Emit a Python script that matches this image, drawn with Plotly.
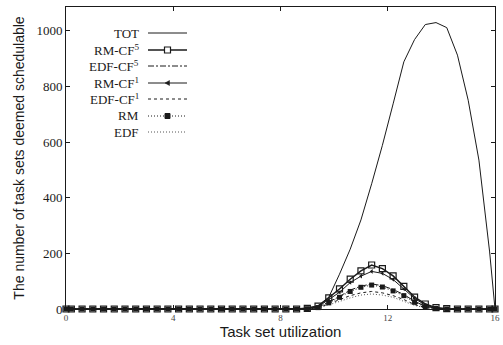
import plotly.graph_objects as go

# Task set utilization (x) values
utilization = [0.0, 0.2, 0.6, 1.0, 1.4, 1.8, 2.2, 2.6, 3.0, 3.4, 3.8, 4.2, 4.6, 5.0, 5.4,
               5.8, 6.2, 6.6, 7.0, 7.4, 7.8, 8.2, 8.6, 9.0, 9.4, 9.8, 10.2, 10.6, 11.0,
               11.4, 11.8, 12.2, 12.6, 13.0, 13.4, 13.8, 14.2, 14.6, 15.0, 15.4, 15.8, 16.0]

zeros21 = [0] * 21  # x = 0 .. 7.8

tot      = zeros21 + [0, 1, 4, 12, 42, 125, 215, 320, 450, 588, 737, 888, 968, 1022, 1029, 1011, 912, 750, 535, 205, 0]
rm_cf5   = zeros21 + [0, 0, 2, 10, 40, 72, 107, 137, 158, 145, 119, 81, 43, 18, 5, 1, 0, 0, 0, 0, 0]
edf_cf5  = zeros21 + [0, 0, 1, 6, 25, 45, 68, 82, 90, 84, 70, 52, 28, 10, 2, 0, 0, 0, 0, 0, 0]
rm_cf1   = zeros21 + [0, 0, 1, 8, 33, 60, 95, 118, 135, 128, 106, 72, 38, 14, 3, 0, 0, 0, 0, 0, 0]
edf_cf1  = zeros21 + [0, 0, 0, 4, 18, 32, 48, 58, 63, 58, 48, 34, 16, 5, 1, 0, 0, 0, 0, 0, 0]
rm       = zeros21 + [0, 0, 1, 5, 22, 42, 63, 78, 86, 79, 65, 48, 24, 8, 2, 0, 0, 0, 0, 0, 0]
edf      = zeros21 + [0, 0, 0, 3, 14, 27, 40, 50, 54, 50, 42, 28, 13, 4, 1, 0, 0, 0, 0, 0, 0]

series_names = ["TOT", "RM-CF<sup>5</sup>", "EDF-CF<sup>5</sup>", "RM-CF<sup>1</sup>",
                "EDF-CF<sup>1</sup>", "RM", "EDF"]

x_ticks = [0, 4, 8, 12, 16]
y_ticks = [0, 200, 400, 600, 800, 1000]

INK = "#1a1a1a"

styles = [
    dict(y=tot, line=dict(color=INK, width=1, dash="solid"), mode="lines", marker=None),
    dict(y=rm_cf5, line=dict(color=INK, width=1.5, dash="solid"), mode="lines+markers",
         marker=dict(symbol="square-open", size=6, color=INK, line=dict(width=1.2, color=INK))),
    dict(y=edf_cf5, line=dict(color=INK, width=1, dash="6px,2px,2px,2px"), mode="lines", marker=None),
    dict(y=rm_cf1, line=dict(color=INK, width=1, dash="solid"), mode="lines+markers",
         marker=dict(symbol="triangle-left", size=4, color=INK)),
    dict(y=edf_cf1, line=dict(color=INK, width=1, dash="3px,3px"), mode="lines", marker=None),
    dict(y=rm, line=dict(color=INK, width=1, dash="1px,2px"), mode="lines+markers",
         marker=dict(symbol="square", size=5, color=INK)),
    dict(y=edf, line=dict(color="#555555", width=1, dash="1px,2px"), mode="lines", marker=None),
]

fig = go.Figure()
# draw in reverse so TOT / RM-CF5 are on top
for name, st in reversed(list(zip(series_names, styles))):
    kw = dict(x=utilization, y=st["y"], mode=st["mode"], line=st["line"], name=name,
              showlegend=False, cliponaxis=False, hoverinfo="skip")
    if st["marker"] is not None:
        kw["marker"] = st["marker"]
    fig.add_trace(go.Scatter(**kw))

# ---- custom gnuplot-style legend (text right-aligned, sample to the right) ----
L, R, T, B = 66, 495, 7, 309
def px(xp):
    return (xp - L) / (R - L)
def py(yp):
    return (B - yp) / (B - T)

legend_rows = [33, 50, 66, 83, 99, 116, 132]
text_right = 141
s0, s1, smid = 148, 187, 167.5
shapes = []
annotations = []
for i, (name, st) in enumerate(zip(series_names, styles)):
    yy = legend_rows[i]
    annotations.append(dict(x=px(text_right), y=py(yy), xref="paper", yref="paper",
                            text=name, showarrow=False, xanchor="right", yanchor="middle",
                            font=dict(family="Liberation Serif", size=13, color=INK)))
    shapes.append(dict(type="line", xref="paper", yref="paper",
                       x0=px(s0), x1=px(s1), y0=py(yy), y1=py(yy),
                       line=dict(color=st["line"]["color"], width=st["line"]["width"],
                                 dash=st["line"]["dash"])))
    m = st["marker"]
    if m is not None:
        h = m["size"] / 2
        if m["symbol"] == "square-open":
            shapes.append(dict(type="rect", xref="paper", yref="paper",
                               x0=px(smid - h), x1=px(smid + h), y0=py(yy - h), y1=py(yy + h),
                               line=dict(color=INK, width=1.2), fillcolor="white"))
        elif m["symbol"] == "square":
            shapes.append(dict(type="rect", xref="paper", yref="paper",
                               x0=px(smid - h), x1=px(smid + h), y0=py(yy - h), y1=py(yy + h),
                               line=dict(color=INK, width=1), fillcolor=INK))
        else:
            shapes.append(dict(type="path", xref="paper", yref="paper",
                               path=f"M {px(smid - 2.5)} {py(yy)} L {px(smid + 2)} {py(yy - 2.5)} "
                                    f"L {px(smid + 2)} {py(yy + 2.5)} Z",
                               line=dict(color=INK, width=0.5), fillcolor=INK))

fig.update_layout(
    width=503, height=345,
    margin=dict(l=L, r=503 - R, t=T, b=345 - B, autoexpand=False),
    paper_bgcolor="white", plot_bgcolor="white",
    hovermode=False,
    shapes=shapes, annotations=annotations,
    xaxis=dict(range=[0, 16], tickvals=x_ticks, ticktext=[str(v) for v in x_ticks],
               ticks="inside", ticklen=4, tickcolor=INK, mirror="ticks",
               showline=True, linecolor=INK, linewidth=1, showgrid=False, zeroline=False,
               tickfont=dict(family="Liberation Serif", size=9, color="#444"),
               title=dict(text="Task set utilization", standoff=1,
                          font=dict(family="Liberation Sans", size=15, color=INK))),
    yaxis=dict(range=[0, 1085], tickvals=y_ticks, ticktext=[str(v) for v in y_ticks],
               ticks="inside", ticklen=4, tickcolor=INK, mirror="ticks",
               showline=True, linecolor=INK, linewidth=1, showgrid=False, zeroline=False,
               tickfont=dict(family="Liberation Serif", size=13, color=INK),
               title=dict(text="The number of task sets deemed schedulable", standoff=8,
                          font=dict(family="Liberation Sans", size=14, color=INK))),
)

fig.write_html("out.html",
               config={"displayModeBar": False, "staticPlot": True},
               post_script="document.body.style.margin='0';document.body.style.padding='0';"
                           "document.body.style.overflow='hidden';")
